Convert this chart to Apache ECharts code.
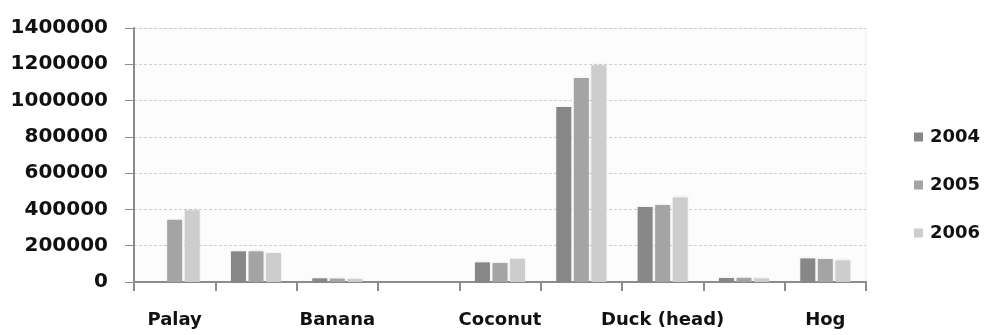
<!DOCTYPE html>
<html>
<head>
<meta charset="utf-8">
<script src="https://cdn.jsdelivr.net/npm/echarts@6/dist/echarts.min.js"></script>
<style>
  html, body { margin: 0; padding: 0; background: #ffffff; }
  #chart { width: 987px; height: 335px; }
</style>
</head>
<body>
<div id="chart"></div>
<script>
// Production by commodity, 2004-2006
const categories = ['Palay', 'Corn', 'Banana', 'Mango', 'Coconut', 'Chicken', 'Duck (head)', 'Goat', 'Hog'];
const years = ['2004', '2005', '2006'];
const values2004 = [null, 169000, 20000, 0, 108000, 965000, 413000, 22000, 130000];
const values2005 = [343000, 169000, 19000, 0, 105000, 1124000, 424000, 23000, 127000];
const values2006 = [395000, 160000, 17000, 0, 128000, 1194000, 466000, 20000, 119000];
const yTicks = [0, 200000, 400000, 600000, 800000, 1000000, 1200000, 1400000];

const colors = ['#878787', '#a4a4a4', '#cdcdcd'];
const font = 'DejaVu Sans';

const chart = echarts.init(document.getElementById('chart'), null, { renderer: 'canvas' });

function barSeries(name, data, color) {
  return {
    name: name,
    type: 'bar',
    data: data,
    barWidth: 15,
    barGap: '17%',
    itemStyle: {
      color: color,
      shadowColor: 'rgba(0,0,0,0.10)',
      shadowBlur: 3
    },
    emphasis: { disabled: true }
  };
}

chart.setOption({
  animation: false,
  backgroundColor: '#ffffff',
  color: colors,
  grid: {
    left: 134, right: 121, top: 28, bottom: 53,
    show: true, backgroundColor: '#fcfcfc', borderColor: '#f0f0f0', borderWidth: 1
  },
  legend: {
    orient: 'vertical',
    left: 909,
    top: 123,
    itemWidth: 9,
    itemHeight: 9,
    itemGap: 30,
    icon: 'rect',
    data: years,
    textStyle: { fontFamily: font, fontWeight: 'bold', fontSize: 18, color: '#111', padding: [0, 0, 0, 2] }
  },
  xAxis: {
    type: 'category',
    data: categories,
    boundaryGap: true,
    axisLine: { show: true, lineStyle: { color: '#8c8c8c', width: 2 } },
    axisTick: { show: true, interval: 0, length: 9, lineStyle: { color: '#8c8c8c', width: 2 } },
    axisLabel: {
      interval: 1,
      margin: 29,
      fontFamily: font, fontWeight: 'bold', fontSize: 18, color: '#111'
    },
    splitLine: { show: false }
  },
  yAxis: {
    type: 'value',
    min: yTicks[0],
    max: yTicks[yTicks.length - 1],
    interval: yTicks[1] - yTicks[0],
    axisLine: { show: true, lineStyle: { color: '#8c8c8c', width: 2 } },
    axisTick: { show: true, inside: false, length: 9, lineStyle: { color: '#8c8c8c', width: 1 } },
    axisLabel: {
      margin: 26,
      formatter: function (v) { return String(v); },
      fontFamily: font, fontWeight: 'bold', fontSize: 20, color: '#111'
    },
    splitLine: { show: true, lineStyle: { color: '#cfcfcf', type: [3, 2], width: 1 } }
  },
  series: [
    barSeries(years[0], values2004, colors[0]),
    barSeries(years[1], values2005, colors[1]),
    barSeries(years[2], values2006, colors[2])
  ]
});
</script>
</body>
</html>
